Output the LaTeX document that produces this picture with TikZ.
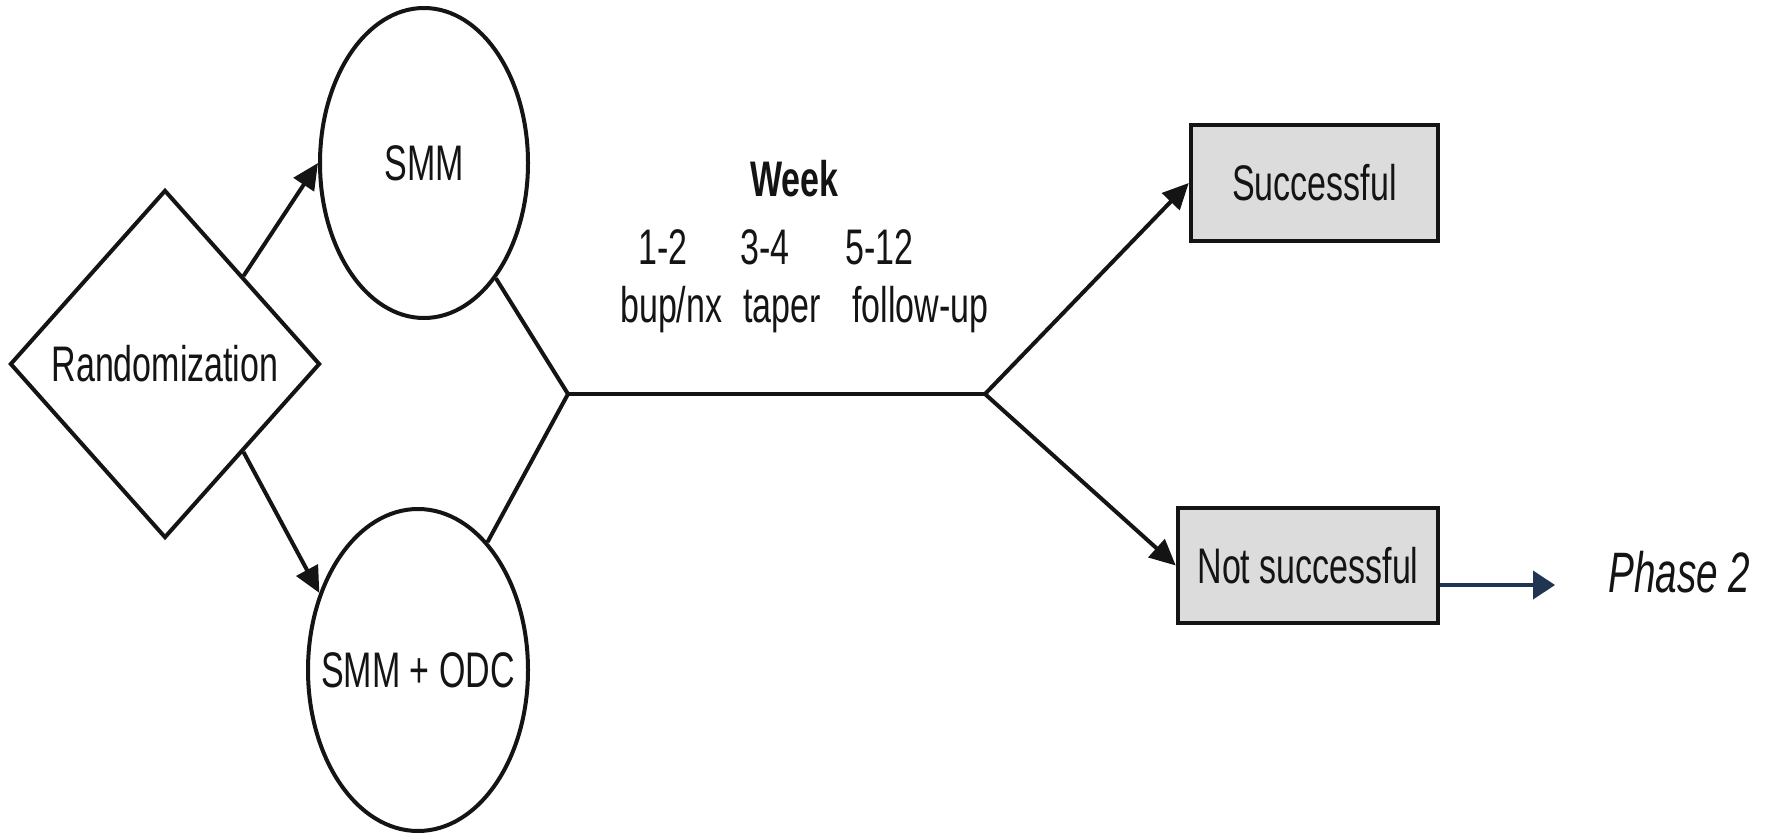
\documentclass[tikz,border=0pt]{standalone}
\usepackage{fontspec}
\setmainfont{Liberation Sans}[FakeStretch=0.68]
\usetikzlibrary{shapes.geometric,arrows.meta,calc}
\definecolor{ink}{HTML}{141414}
\definecolor{boxfill}{HTML}{DCDCDC}
\definecolor{navy}{HTML}{1F3552}
\begin{document}
\begin{tikzpicture}[x=1pt,y=-1pt,
  txt/.style={font=\fontsize{50}{60}\selectfont, text=ink, inner sep=0pt},
  shapeline/.style={draw=ink, line width=4pt},
  dia/.style={diamond, shapeline, fill=white, inner sep=0pt, txt},
  oval/.style={ellipse, shapeline, fill=white, inner sep=0pt, txt},
  outbox/.style={rectangle, draw=ink, line width=4.5pt, fill=boxfill, inner sep=0pt, txt},
  conn/.style={draw=ink, line width=4pt},
  tip/.style={-{Triangle[length=26pt,width=24pt]}},
  navyline/.style={draw=navy, line width=4pt, -{Triangle[length=22pt,width=28pt]}},
  wk/.style={txt, anchor=base west}
]
\useasboundingbox[fill=white] (0,0) rectangle (1774,834);

% nodes
\node[dia, minimum width=310pt, minimum height=348pt] (rand) at (165,364) {\makebox[0pt]{Randomization}};
\node[oval, minimum width=208pt, minimum height=310pt] (smm) at (424,163) {\makebox[0pt]{SMM}};
\node[oval, minimum width=220pt, minimum height=322pt] (odc) at (418,670) {\makebox[0pt]{SMM + ODC}};
\node[outbox, minimum width=247pt, minimum height=116pt] (succ) at (1314.5,183) {Successful};
\node[outbox, minimum width=260pt, minimum height=115pt] (ns) at (1308,565.5) {Not successful};

% week labels
\node[wk, font=\fontsize{50}{60}\selectfont\bfseries] (week) at (750,197) {Week};
\node[wk] (w1) at (638,265) {1-2};
\node[wk] (w2) at (740,265) {3-4};
\node[wk] (w3) at (845,265) {5-12};
\node[wk] (p1) at (620,322) {bup/nx};
\node[wk] (p2l) at (743,322) {taper};
\node[wk] (p3) at (852,322) {follow-up};

\node[txt, font=\fontsize{57}{68}\selectfont\itshape, anchor=base west] (phase) at (1608,592) {Phase 2};

% junctions
\coordinate (j1) at (568,394);
\coordinate (j2) at (985,394);
\coordinate (p2tip) at (1555,585);

% connectors
\draw[conn, tip] (rand.north east) -- (smm.west);
\draw[conn, tip] (rand.south east) -- (odc.142);
\draw[conn, line join=miter] (smm) -- (j1) -- (odc);
\draw[conn] (j1) -- (j2);
\draw[conn, tip] (j2) -- (succ.west);
\draw[conn, tip] (j2) -- (ns.west);
\draw[navyline] (ns.east |- p2tip) -- (p2tip);
\end{tikzpicture}
\end{document}
